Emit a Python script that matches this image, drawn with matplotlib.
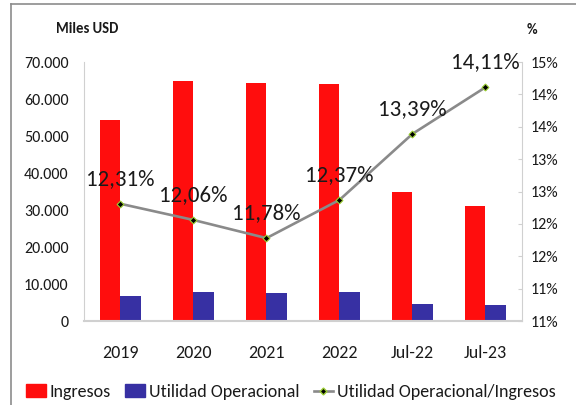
import numpy as np
import matplotlib
matplotlib.use("Agg")
import matplotlib.pyplot as plt
from matplotlib.lines import Line2D
from matplotlib.patches import Patch

# Datos
categorias = ["2019", "2020", "2021", "2022", "Jul-22", "Jul-23"]
ingresos = [54200, 64900, 64400, 64000, 34800, 31000]
utilidad = [6700, 7800, 7600, 7900, 4600, 4400]
margen_pct = [12.31, 12.06, 11.78, 12.37, 13.39, 14.11]
etiquetas_margen = ["12,31%", "12,06%", "11,78%", "12,37%", "13,39%", "14,11%"]
ticks_izq = [0, 10000, 20000, 30000, 40000, 50000, 60000, 70000]
ticks_der = [10.5, 11.0, 11.5, 12.0, 12.5, 13.0, 13.5, 14.0, 14.5]
etiquetas_der = ["11%", "11%", "12%", "12%", "13%", "13%", "14%", "14%", "15%"]

plt.rcParams["font.family"] = ["Carlito", "Liberation Sans", "DejaVu Sans"]

rojo = "#FF0D0D"
azul = "#3730A3"
gris = "#8A8A8A"
eje = "#D0D0D0"
texto = "#1A1A1A"

fig = plt.figure(figsize=(5.76, 4.05), dpi=100)
ax = fig.add_axes([0.1458, 0.2074, 0.7604, 0.6395])

x = np.arange(len(categorias))
w = 0.28
ax.bar(x - w / 2, ingresos, width=w, color=rojo, linewidth=0)
ax.bar(x + w / 2, utilidad, width=w, color=azul, linewidth=0)

ax.set_xlim(-0.5, len(categorias) - 0.5)
ax.set_ylim(0, 70000)
ax.set_yticks(ticks_izq)
ax.set_yticklabels([f"{v:,.0f}".replace(",", ".") for v in ticks_izq], fontsize=11.5, color=texto)
ax.set_xticks(x)
ax.set_xticklabels(categorias, fontsize=13, color=texto)
ax.tick_params(axis="x", length=0, pad=17)
ax.tick_params(axis="y", length=0, pad=11)
for s in ["top", "right"]:
    ax.spines[s].set_visible(False)
ax.spines["left"].set_color(eje)
ax.spines["bottom"].set_color(eje)
ax.spines["bottom"].set_linewidth(1.5)

# Eje secundario con el margen
ax2 = ax.twinx()
ax2.plot(x, margen_pct, color=gris, linewidth=1.9, marker="D", markersize=3.5,
         markerfacecolor="black", markeredgecolor="#9ACD32", markeredgewidth=0.8)
ax2.set_ylim(10.5, 14.5)
ax2.set_yticks(ticks_der)
ax2.set_yticklabels(etiquetas_der, fontsize=11.5, color=texto)
ax2.tick_params(axis="y", direction="in", length=3, color=eje, pad=6)
for s in ["top", "left", "bottom"]:
    ax2.spines[s].set_visible(False)
ax2.spines["right"].set_color(eje)

for xi, yi, lab in zip(x, margen_pct, etiquetas_margen):
    ax2.annotate(lab, (xi, yi), xytext=(0, 13.5), textcoords="offset points",
                 ha="center", va="baseline", fontsize=16.5, color=texto)

fig.text(0.151, 0.928, "Miles USD", ha="center", va="center", fontsize=10.5,
         fontweight="bold", color=texto)
fig.text(0.924, 0.925, "%", ha="center", va="center", fontsize=10.5,
         fontweight="bold", color=texto)

handles = [
    Patch(color=rojo),
    Patch(color=azul),
    Line2D([], [], color=gris, linewidth=1.9, marker="D", markersize=3.5,
           markerfacecolor="black", markeredgecolor="#9ACD32"),
]
fig.legend(handles, ["Ingresos", "Utilidad Operacional", "Utilidad Operacional/Ingresos"],
           loc="center", bbox_to_anchor=(0.505, 0.032), ncol=3, frameon=False,
           fontsize=13, handlelength=1.1, handleheight=0.75, handletextpad=0.2,
           columnspacing=0.8, labelcolor=texto)

# Marco exterior
fig.add_artist(Line2D([0.019, 1.0], [0.99, 0.99], color="#8C8C8C", linewidth=1.2))
fig.add_artist(Line2D([0.019, 0.019], [0.0, 0.99], color="#8C8C8C", linewidth=1.2))

fig.savefig("out.png", dpi=100)
